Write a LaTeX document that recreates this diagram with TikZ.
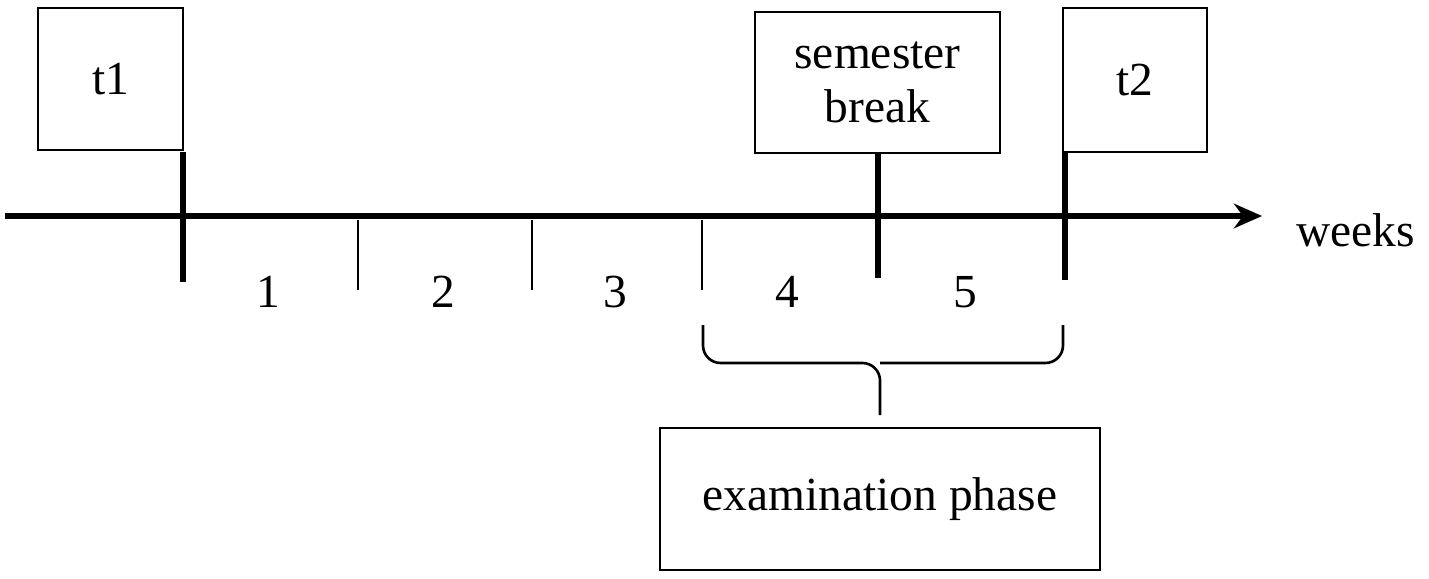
\documentclass[tikz,border=0pt]{standalone}
\usepackage{fontspec}
\setmainfont{Liberation Serif}
\usetikzlibrary{positioning,arrows.meta}
\begin{document}
\begin{tikzpicture}[x=0.02cm,y=-0.02cm,
    box/.style={draw,thick,inner sep=0,font=\fontsize{27}{31}\selectfont,align=center},
    num/.style={font=\fontsize{27}{31}\selectfont},
    major/.style={line width=3pt},
    minor/.style={line width=1.5pt}]
  \useasboundingbox (0,0) rectangle (1429,578);
  % boxes
  \node [box,minimum width=2.9cm,minimum height=2.84cm] (t1) at (110.5,79) {t1};
  \node [box,minimum width=4.9cm,minimum height=2.82cm] (Br) at (877.5,82.5) {semester\\break};
  \node [box,minimum width=2.88cm,minimum height=2.88cm] (t2) at (1135,80) {t2};
  \node [box,minimum width=8.8cm,minimum height=2.84cm] (Ex) at (880,499) {examination phase};
  % axis
  \coordinate (A0) at (5,216);
  \coordinate (A1) at (1262,216);
  \draw [line width=3pt,-{Stealth[length=16pt,width=14pt]}] (A0) -- (A1);
  \node [num,anchor=west] (W) at (1290,230) {weeks};
  % ticks
  \draw [major] (183,152) -- (183,282);
  \draw [major] (878,152) -- (878,278);
  \draw [major] (1065,152) -- (1065,280);
  \foreach \x in {358,532,702}
    \draw [minor] (\x,220) -- (\x,290);
  % week numbers
  \foreach \x/\n in {268/1,443/2,615/3,787/4,965/5}
    \node [num] (n\n) at (\x,292) {\n};
  % brace
  \draw [minor,rounded corners=10pt] (703,325) -- (703,363) -- (880,363) -- (880,415);
  \draw [minor,rounded corners=10pt] (1063,325) -- (1063,363) -- (880,363);
\end{tikzpicture}
\end{document}
